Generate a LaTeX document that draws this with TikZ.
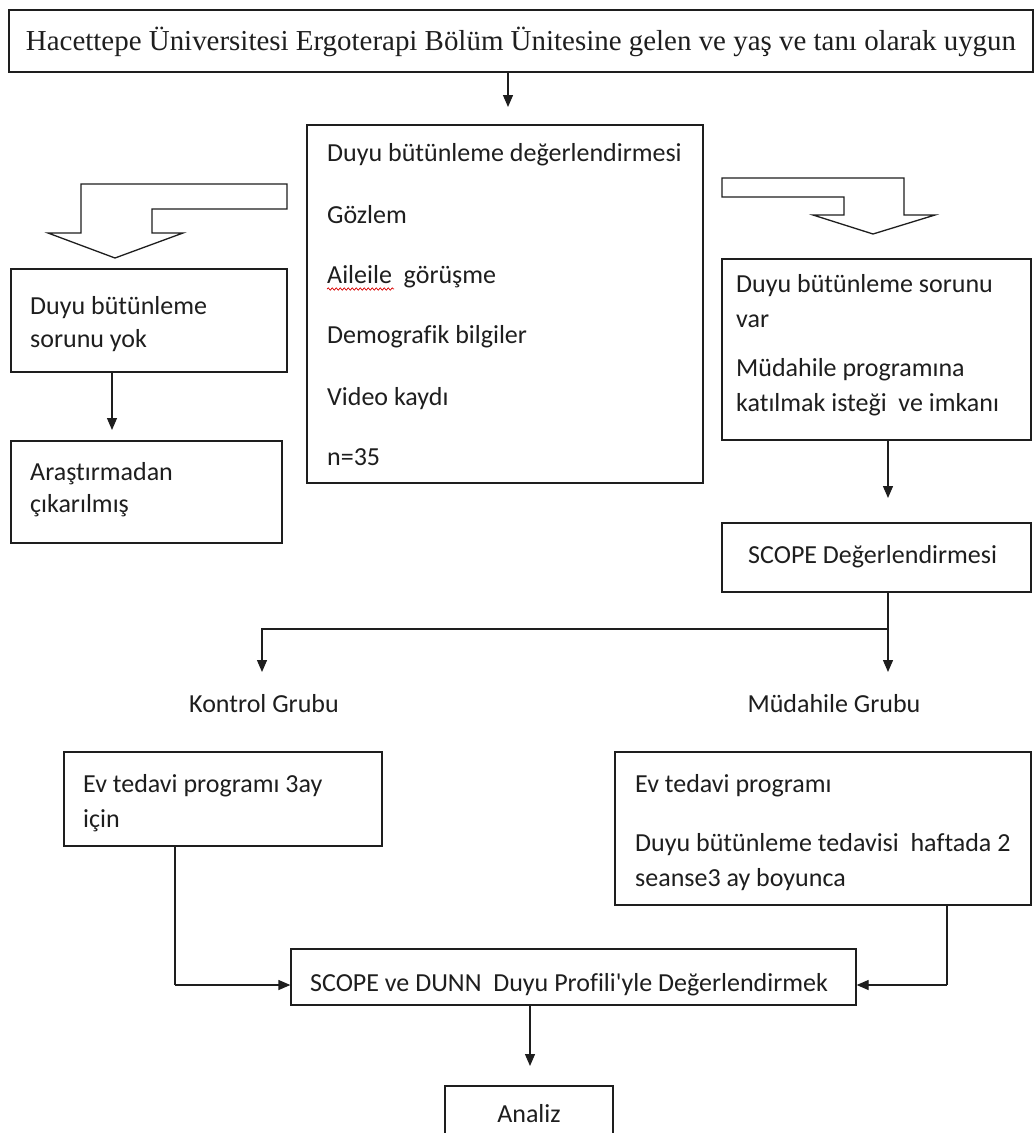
\documentclass[tikz,border=0pt]{standalone}
\usepackage{fontspec}
\setmainfont{Carlito}
\newfontfamily\calfont[Ligatures=NoCommon]{Carlito}
\newfontfamily\seriffont{Liberation Serif}
\usetikzlibrary{arrows.meta,decorations.pathmorphing}
\definecolor{ink}{RGB}{30,30,30}
\newcommand\mkbox[5]{\node[boxst, minimum width={#4-#2}, minimum height={#5-#3}] (#1) at ({(#2+#4)/2},{(#3+#5)/2}) {};}
\begin{document}
\begin{tikzpicture}[x=1pt,y=-1pt,
  boxst/.style={draw=ink, line width=1.3pt, inner sep=0pt, fill=white},
  txt/.style={anchor=base west, inner sep=0pt, text=ink, font=\calfont\fontsize{26}{31}\selectfont},
  ctxt/.style={anchor=base, inner sep=0pt, text=ink, font=\calfont\fontsize{26}{31}\selectfont},
  arr/.style={draw=ink, line width=1.3pt, -{Triangle[length=12pt,width=10pt]}},
  ln/.style={draw=ink, line width=1.3pt},
  blk/.style={draw=ink, line width=1.3pt, fill=white, line join=miter}]
\useasboundingbox[fill=white] (0,0) rectangle (1036,1133);

% top box
\mkbox{T}{9}{10}{1033}{72}
\node[anchor=base, inner sep=0pt, text=ink] (Tt) at (521,50) {\resizebox{990pt}{!}{\seriffont\fontsize{27.5}{30}\selectfont Hacettepe Üniversitesi Ergoterapi Bölüm Ünitesine gelen ve yaş ve tanı olarak uygun}};
\coordinate (a1e) at (508,107);
\draw[arr] (T.south -| a1e) -- (a1e);

% center box
\mkbox{C}{307}{125}{703}{483}
\node[txt] (c1) at (327,161) {Duyu bütünleme değerlendirmesi};
\node[txt] (c2) at (327,223) {Gözlem};
\node[txt] (c3) at (327,283) {Aileile\ \ görüşme};
\node[txt] (c4) at (327,343) {Demografik bilgiler};
\node[txt] (c5) at (327,405) {Video kaydı};
\node[txt] (c6) at (327,465) {n=35};
\draw[red!85!black, line width=0.7pt, decorate, decoration={snake, amplitude=1.2pt, segment length=4pt}] (327,289) -- (394,289);

% block arrows
\draw[blk] (287,184) -- (287,209) -- (152,209) -- (152,233) -- (183,233) -- (115,258) -- (48,233) -- (81,233) -- (81,184) -- cycle;
\draw[blk] (722,178) -- (904,178) -- (904,215) -- (935,215) -- (873,234) -- (813,215) -- (844,215) -- (844,197) -- (722,197) -- cycle;

% left column
\mkbox{L1}{11}{269}{287}{372}
\node[txt] (l1a) at (30,314) {Duyu bütünleme};
\node[txt] (l1b) at (30,347) {sorunu yok};
\coordinate (a2e) at (112,430);
\draw[arr] (L1.south -| a2e) -- (a2e);
\mkbox{L2}{11}{441}{282}{543}
\node[txt] (l2a) at (30,480) {Araştırmadan};
\node[txt] (l2b) at (30,512) {çıkarılmış};

% right column
\mkbox{R1}{722}{259}{1031}{440}
\node[txt] (r1a) at (736,292) {Duyu bütünleme sorunu};
\node[txt] (r1b) at (736,327) {var};
\node[txt] (r1c) at (736,376) {Müdahile programına};
\node[txt] (r1d) at (736,411) {katılmak isteği\ \ ve imkanı};
\coordinate (a3e) at (888,498);
\draw[arr] (R1.south -| a3e) -- (a3e);
\mkbox{S1}{722}{523}{1031}{592}
\node[txt] (s1t) at (748,563) {SCOPE Değerlendirmesi};

% split
\coordinate (sp) at (888,629);
\coordinate (kg) at (262,672);
\coordinate (mg) at (888,672);
\draw[ln] (S1.south -| sp) -- (sp);
\draw[arr] (sp) -| (kg);
\draw[arr] (sp) -- (mg);
\node[ctxt] (kgt) at (264,712) {Kontrol Grubu};
\node[ctxt] (mgt) at (834,712) {Müdahile Grubu};

% lower boxes
\mkbox{L3}{64}{752}{382}{846}
\node[txt] (l3a) at (83,792) {Ev tedavi programı 3ay};
\node[txt] (l3b) at (83,827) {için};
\mkbox{R3}{615}{752}{1031}{905}
\node[txt] (r3a) at (635,792) {Ev tedavi programı};
\node[txt] (r3b) at (635,851) {Duyu bütünleme tedavisi\ \ haftada 2};
\node[txt] (r3c) at (635,886) {seanse3 ay boyunca};

\mkbox{B}{291}{949}{856}{1005}
\node[txt] (bt) at (310,991) {SCOPE ve DUNN\ \ Duyu Profili'yle Değerlendirmek};
\coordinate (lc) at (175,985);
\coordinate (rc) at (947,985);
\draw[ln] (L3.south -| lc) -- (lc);
\draw[arr] (lc) -- (B.west |- lc);
\draw[ln] (R3.south -| rc) -- (rc);
\draw[arr] (rc) -- (B.east |- rc);

\coordinate (a4e) at (530,1066);
\draw[arr] (B.south -| a4e) -- (a4e);
\mkbox{A}{445}{1086}{613}{1150}
\node[ctxt] (at) at (529,1122) {Analiz};
\end{tikzpicture}
\end{document}
